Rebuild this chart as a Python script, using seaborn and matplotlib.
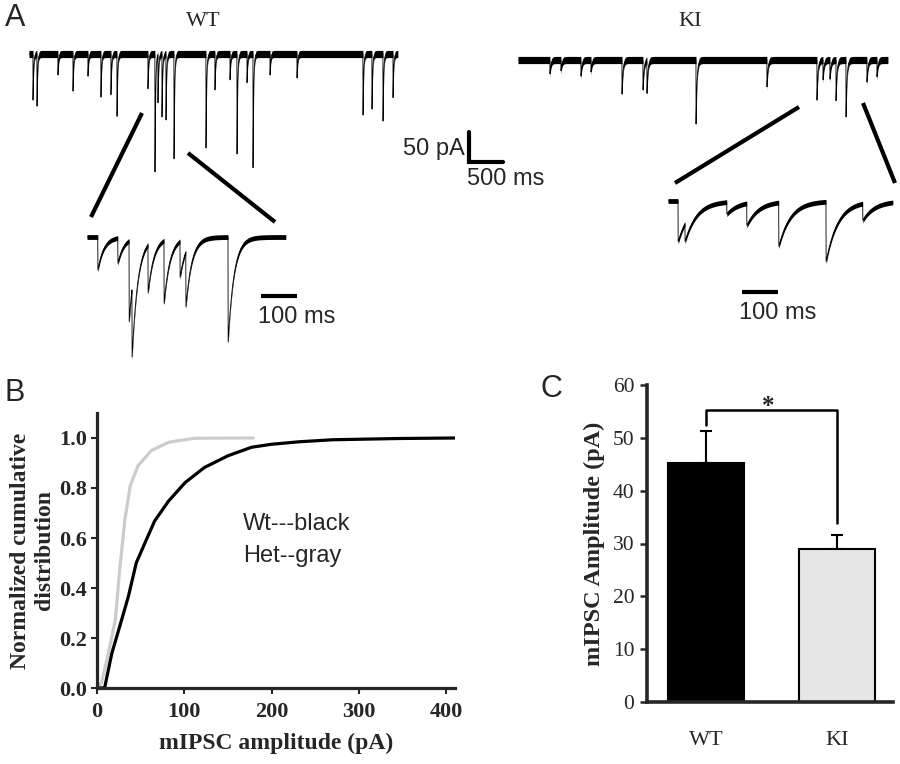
import numpy as np
import pandas as pd
import matplotlib
matplotlib.use("Agg")
import matplotlib.pyplot as plt
import seaborn as sns

sns.set_style("ticks")
plt.rcParams['font.family'] = ['Liberation Serif', 'DejaVu Serif']
SANS = ['Liberation Sans', 'DejaVu Sans']

W, H = 900, 764

# ---- A: mIPSC events (onset ms, amplitude pA)
wt_long_t = [59, 118, 426, 647, 867, 1058, 1205, 1294, 1749, 1852, 1896, 1955, 2014, 2132,
             2602, 2734, 2955, 3058, 3205, 3293, 3543, 3940, 4910, 5042, 5204, 5351]
wt_long_amp = [77, 87, 35, 62, 37, 72, 68, 104, 58, 197, 80, 105, 110, 175,
               157, 60, 43, 167, 48, 190, 35, 40, 102, 92, 112, 73]
wt_long_len = 5424

ki_long_t = [470, 632, 926, 1073, 1529, 1838, 1896, 2617, 3660, 4395, 4484, 4586, 4675,
             4822, 5130, 5277]
ki_long_amp = [23, 18, 27, 20, 57, 50, 55, 107, 45, 67, 33, 32, 68, 95, 37, 28]
ki_long_len = 5439

wt_zoom_t = [30, 85, 116, 124, 168, 212, 256, 272, 388]
wt_zoom_amp = [55, 42, 135, 115, 80, 105, 60, 92, 175]
wt_zoom_len = 547

ki_zoom_t = [28, 47, 162, 217, 305, 435, 536]
ki_zoom_amp = [68, 30, 20, 37, 73, 100, 28]
ki_zoom_len = 619

# ---- B: cumulative distributions
wt_cum_x = [0, 7, 9, 17, 26, 36, 45, 55, 66, 82, 101, 123, 150, 177, 200, 232, 270, 346, 410]
wt_cum_y = [0, 0, 0.005, 0.139, 0.246, 0.367, 0.501, 0.581, 0.668, 0.748, 0.822, 0.882,
            0.929, 0.963, 0.975, 0.985, 0.993, 0.998, 1.0]
het_cum_x = [0, 5, 13, 21, 26, 32, 38, 47, 62, 82, 112, 179]
het_cum_y = [0, 0.019, 0.139, 0.273, 0.474, 0.675, 0.808, 0.889, 0.949, 0.983, 0.999, 1.0]

# ---- C: mean amplitude
groups = ['WT', 'KI']
amp_mean = [45.3, 29.0]
amp_sem = [5.9, 2.6]
bar_colors = ['black', '#e6e6e6']


def px_axes(fig, x0, y0, x1, y1):
    return fig.add_axes([x0 / W, 1 - y1 / H, (x1 - x0) / W, (y1 - y0) / H])


def build_trace(ev_t, ev_amp, length, tau, dt):
    t = np.union1d(np.arange(0, length, dt), ev_t)
    y = np.zeros_like(t, dtype=float)
    for t0, a in zip(ev_t, ev_amp):
        m = t >= t0
        y[m] -= a * np.exp(-(t[m] - t0) / tau)
    return pd.DataFrame({'t': t, 'i': y})


def draw_trace(ax, df, band, lw):
    ax.fill_between(df.t, df.i - band, df.i + band, color='black', lw=0)
    sns.lineplot(data=df, x='t', y='i', ax=ax, color='black', lw=lw,
                 estimator=None, sort=False)
    ax.set_axis_off()


fig = plt.figure(figsize=(9, 7.64), dpi=100)

# overlay in pixel coords for zoom lines
ov = fig.add_axes([0, 0, 1, 1], zorder=-1)
ov.set_xlim(0, W)
ov.set_ylim(H, 0)
ov.set_axis_off()
for (x0, y0, x1, y1) in [(142, 113, 91, 217), (188, 153, 275, 222),
                         (799, 107, 675, 183), (863, 103, 895, 183)]:
    ov.plot([x0, x1], [y0, y1], color='black', lw=3, solid_capstyle='butt')

ms_px, pa_px = 14.7, 1.67
zms_px = 2.75
TXT = 17

# long traces
ax = px_axes(fig, 29, 30, 398, 180)
draw_trace(ax, build_trace(wt_long_t, wt_long_amp, wt_long_len, 9, 2), 6, 0.6)
ax.set_xlim(0, wt_long_len)
ax.set_ylim(-(180 - 54) * pa_px, (54 - 30) * pa_px)

ax = px_axes(fig, 518, 30, 888, 180)
draw_trace(ax, build_trace(ki_long_t, ki_long_amp, ki_long_len, 14, 2), 6, 0.6)
ax.set_xlim(0, ki_long_len)
ax.set_ylim(-(180 - 60) * pa_px, (60 - 30) * pa_px)

# zoomed traces
ax = px_axes(fig, 87, 215, 286, 365)
draw_trace(ax, build_trace(wt_zoom_t, wt_zoom_amp, wt_zoom_len, 16, 0.5), 4, 0.6)
ax.set_xlim(0, wt_zoom_len)
ax.set_ylim(-(365 - 237) * pa_px, (237 - 215) * pa_px)
bar_y = -(296 - 237) * pa_px
bar_x = (261 - 87) * zms_px
ax.plot([bar_x, bar_x + 100], [bar_y, bar_y], color='black', lw=3, clip_on=False,
        solid_capstyle='butt')
ax.text(bar_x - 3 * zms_px, bar_y - 21 * pa_px, '100 ms', ha='left', va='center',
        fontsize=TXT, family=SANS)

ax = px_axes(fig, 668, 180, 893, 280)
draw_trace(ax, build_trace(ki_zoom_t, ki_zoom_amp, ki_zoom_len, 32, 0.5), 4, 0.6)
ax.set_xlim(0, ki_zoom_len)
ax.set_ylim(-(280 - 201) * pa_px, (201 - 180) * pa_px)
bar_y = -(292 - 201) * pa_px
bar_x = (742 - 668) * zms_px
ax.plot([bar_x, bar_x + 100], [bar_y, bar_y], color='black', lw=3, clip_on=False,
        solid_capstyle='butt')
ax.text(bar_x - 3 * zms_px, bar_y - 21 * pa_px, '100 ms', ha='left', va='center',
        fontsize=TXT, family=SANS)

# 50 pA / 500 ms scale bar
ax = px_axes(fig, 460, 120, 560, 200)
ax.set_xlim(0, 100 * ms_px)
ax.set_ylim(0, 80 * pa_px)
ax.set_axis_off()
sx, sy = (469 - 460) * ms_px, (200 - 162) * pa_px
ax.plot([sx, sx, sx + 500], [sy + 50, sy, sy], color='black', lw=3, clip_on=False,
        solid_joinstyle='miter')
ax.text(sx - 4 * ms_px, sy + 13 * pa_px, '50 pA', ha='right', va='center', fontsize=TXT,
        family=SANS)
ax.text(sx - 2 * ms_px, sy - 17 * pa_px, '500 ms', ha='left', va='center',
        fontsize=TXT, family=SANS)

fig.text(203 / W, 1 - 22 / H, 'WT', ha='center', va='center', fontsize=16)
fig.text(690 / W, 1 - 22 / H, 'KI', ha='center', va='center', fontsize=16)

# ---- B
axb = px_axes(fig, 97, 413, 455, 688)
sns.lineplot(x=het_cum_x, y=het_cum_y, ax=axb, color='#cccccc', lw=2.3, sort=False,
             estimator=None)
sns.lineplot(x=wt_cum_x, y=wt_cum_y, ax=axb, color='black', lw=2.3, sort=False,
             estimator=None)
axb.set_xlim(0, 410)
axb.set_ylim(0, 1.1)
axb.set_xticks([0, 100, 200, 300, 400])
axb.set_yticks([0, 0.2, 0.4, 0.6, 0.8, 1.0])
axb.set_yticklabels(['0.0', '0.2', '0.4', '0.6', '0.8', '1.0'])
for s in ['left', 'bottom']:
    axb.spines[s].set_linewidth(2.3)
sns.despine(ax=axb)
axb.tick_params(width=1.5, length=4, labelsize=16)
axb.tick_params(axis='x', pad=6)
axb.tick_params(axis='y', pad=3)
for lab in axb.get_xticklabels() + axb.get_yticklabels():
    lab.set_fontweight('bold')
axb.set_xlabel('mIPSC amplitude (pA)', fontsize=17, fontweight='bold', labelpad=8)
axb.set_ylabel('Normalized cumulative\ndistribution', fontsize=17, fontweight='bold',
               labelpad=3, linespacing=1.2)
axb.text(167, 0.655, 'Wt---black', ha='left', va='center', fontsize=TXT, family=SANS)
axb.text(167, 0.527, 'Het--gray', ha='left', va='center', fontsize=TXT, family=SANS)

# ---- C
axc = px_axes(fig, 647, 385, 893, 702)
sns.barplot(x=groups, y=amp_mean, hue=groups, palette=bar_colors, legend=False,
            width=0.58, edgecolor='black', linewidth=1.5, ax=axc)
axc.errorbar([0, 1], amp_mean, yerr=[[0, 0], amp_sem], fmt='none', ecolor='black',
             elinewidth=1.5, capsize=4, capthick=1.5)
tops = [m + s for m, s in zip(amp_mean, amp_sem)]
by = max(tops) + 4
axc.plot([0, 0, 1, 1], [tops[0] + 1.3, by, by, tops[1] + 2.3], color='black', lw=1.8)
axc.text(0.48, by - 0.5, '*', ha='center', va='baseline', fontsize=18, fontweight='bold')
axc.set_xlim(-0.45, 1.43)
axc.set_ylim(0, 60)
axc.set_yticks(range(0, 61, 10))
for s in ['left', 'bottom']:
    axc.spines[s].set_linewidth(2.6)
sns.despine(ax=axc)
axc.tick_params(axis='y', width=1.8, length=5, labelsize=15.5, pad=4)
axc.tick_params(axis='x', length=0, labelsize=16, pad=21)
axc.set_ylabel('mIPSC Amplitude (pA)', fontsize=17.5, fontweight='bold', labelpad=6)

# panel letters
for lab, x, y in [('A', 15, 18), ('B', 15, 393), ('C', 551, 389)]:
    fig.text(x / W, 1 - y / H, lab, ha='center', va='center', fontsize=22, family=SANS)

fig.savefig('out.png', dpi=100)
